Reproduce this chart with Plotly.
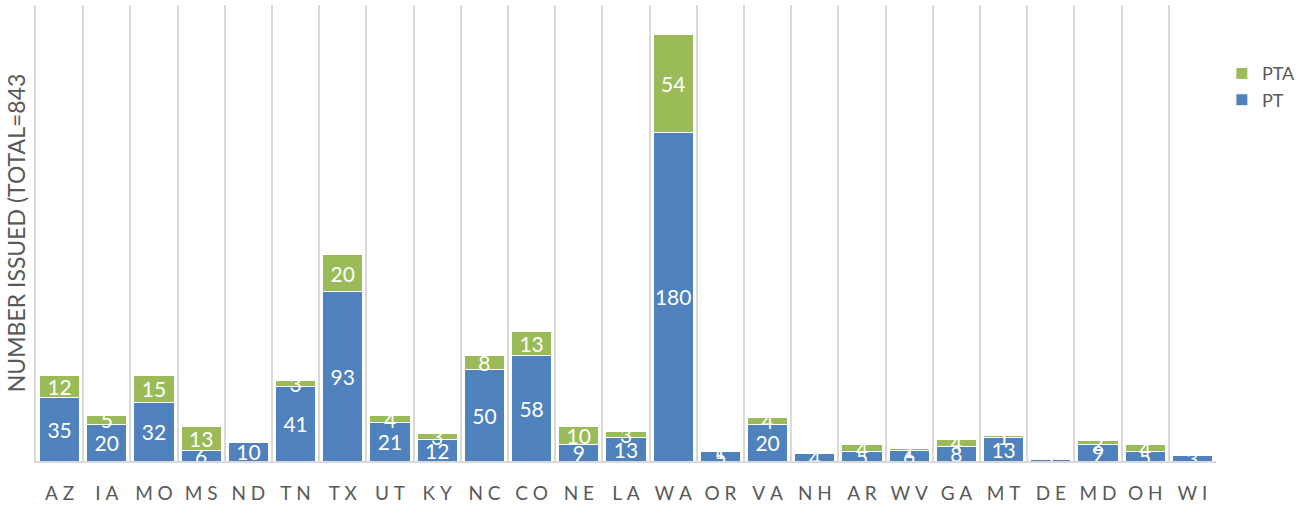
import plotly.graph_objects as go

states = ["AZ", "IA", "MO", "MS", "ND", "TN", "TX", "UT", "KY", "NC", "CO", "NE", "LA",
          "WA", "OR", "VA", "NH", "AR", "WV", "GA", "MT", "DE", "MD", "OH", "WI"]
pt = [35, 20, 32, 6, 10, 41, 93, 21, 12, 50, 58, 9, 13,
      180, 5, 20, 4, 5, 6, 8, 13, 1, 9, 5, 3]
pta = [12, 5, 15, 13, 0, 3, 20, 4, 3, 8, 13, 10, 3,
       54, 1, 4, 0, 4, 1, 4, 1, 0, 2, 4, 0]

total = sum(pt) + sum(pta)

# spaced-out category labels
labels = ["\u2009\u2009".join(list(s)) for s in states]

FONT = "Lato, 'Open Sans', sans-serif"
GREY = "#595959"


def value_text(vals):
    return [str(v) if v else "" for v in vals]


fig = go.Figure()
for name, vals, color in (("PT", pt, "#4F81BD"), ("PTA", pta, "#9BBB59")):
    fig.add_trace(go.Bar(
        name=name, x=labels, y=vals,
        marker=dict(color=color, line=dict(color="white", width=1)),
        text=value_text(vals), textposition="inside", insidetextanchor="middle",
        textangle=0, constraintext="none",
        textfont=dict(color="white", size=21, family=FONT),
    ))

fig.update_layout(
    barmode="stack",
    bargap=0.15,
    width=1307, height=506,
    margin=dict(l=36, r=91, t=5, b=45),
    plot_bgcolor="white", paper_bgcolor="white",
    font=dict(family=FONT, color=GREY),
    showlegend=True,
    legend=dict(traceorder="reversed", x=1.005, y=0.89, xanchor="left", yanchor="top",
                font=dict(size=18, color=GREY, family=FONT), itemwidth=30,
                bgcolor="rgba(0,0,0,0)"),
    xaxis=dict(type="category", tickson="boundaries", showgrid=True, gridcolor="#d9d9d9",
               gridwidth=2, ticks="", showline=True, linecolor="#d9d9d9", linewidth=2,
               ticklabelstandoff=14, automargin=False,
               tickfont=dict(size=19, color=GREY, family=FONT)),
    yaxis=dict(range=[0, 250], showgrid=False, showticklabels=False, ticks="",
               zeroline=False, showline=True, linecolor="#d9d9d9", linewidth=2,
               automargin=False,
               title=dict(text=f"NUMBER ISSUED (TOTAL={total}", standoff=2,
                          font=dict(size=23, color=GREY, family=FONT))),
)

fig.write_html("out.html")
